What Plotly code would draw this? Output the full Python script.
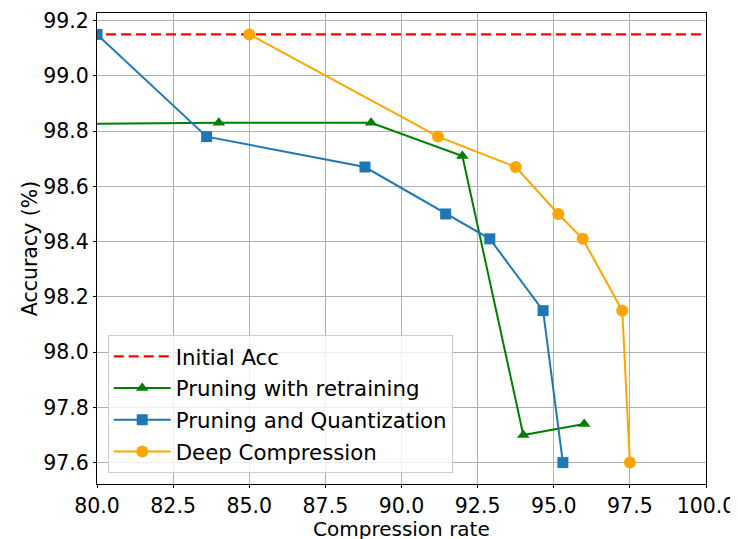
import plotly.graph_objects as go

initial_acc = 99.15
initial_x = [80, 100]

prune_x = [60, 84.0, 89.0, 92.0, 94.0, 96.0]
prune_acc = [98.81, 98.83, 98.83, 98.71, 97.70, 97.74]

pq_x = [80.0, 83.6, 88.8, 91.45, 92.9, 94.65, 95.3]
pq_acc = [99.15, 98.78, 98.67, 98.50, 98.41, 98.15, 97.60]

dc_x = [85.0, 91.2, 93.75, 95.15, 95.95, 97.25, 97.5]
dc_acc = [99.15, 98.78, 98.67, 98.50, 98.41, 98.15, 97.60]

x_ticks = [80.0, 82.5, 85.0, 87.5, 90.0, 92.5, 95.0, 97.5, 100.0]
y_ticks = [97.6, 97.8, 98.0, 98.2, 98.4, 98.6, 98.8, 99.0, 99.2]

FONT = "DejaVu Sans"
FS = 20.5
LFS = 21.3

fig = go.Figure()
fig.add_trace(go.Scatter(
    x=[0, 200], y=[initial_acc, initial_acc], mode="lines", name="Initial Acc",
    legendgroup="a",
    line=dict(color="red", width=2.2, dash="10px,5px")))
fig.add_trace(go.Scatter(
    x=prune_x, y=prune_acc, mode="lines+markers", name="Pruning with retraining",
    legendgroup="b",
    line=dict(color="green", width=2),
    marker=dict(symbol="triangle-up", size=11, color="green")))
fig.add_trace(go.Scatter(
    x=pq_x, y=pq_acc, mode="lines+markers", name="Pruning and Quantization",
    legendgroup="c",
    line=dict(color="#1f77b4", width=2),
    marker=dict(symbol="square", size=11, color="#1f77b4")))
fig.add_trace(go.Scatter(
    x=dc_x, y=dc_acc, mode="lines+markers", name="Deep Compression",
    legendgroup="d",
    line=dict(color="orange", width=2),
    marker=dict(symbol="circle", size=12, color="orange")))

axis_common = dict(
    showgrid=True, gridcolor="#b0b0b0", gridwidth=1,
    showline=True, linecolor="black", linewidth=1, mirror=True,
    ticks="outside", ticklen=3, tickcolor="black", tickwidth=1,
    tickfont=dict(family=FONT, size=FS, color="black"),
    zeroline=False, tickformat=".1f", automargin=False,
    ticklabeloverflow="allow",
)

fig.update_layout(
    width=730, height=531,
    margin=dict(l=89, r=32, t=5, b=55),
    paper_bgcolor="white", plot_bgcolor="white",
    font=dict(family=FONT, size=FS, color="black"),
    xaxis=dict(range=[80, 100], tickvals=x_ticks, **axis_common),
    yaxis=dict(range=[97.5225, 99.2275], tickvals=y_ticks,
               title=dict(text="Accuracy (%)", font=dict(family=FONT, size=FS), standoff=0),
               **axis_common),
    legend=dict(x=0.0176, y=0.0234, xanchor="left", yanchor="bottom",
                bgcolor="rgba(255,255,255,0.8)", bordercolor="#cccccc", borderwidth=1,
                font=dict(family=FONT, size=LFS, color="black"),
                traceorder="grouped", tracegroupgap=1, itemwidth=57),
    showlegend=True,
    annotations=[dict(text="Compression rate", xref="paper", yref="paper",
                      x=0.5, y=-0.0945, xanchor="center", yanchor="middle",
                      showarrow=False, borderpad=0,
                      font=dict(family=FONT, size=20, color="black"))],
)

fig.write_html("out.html")
